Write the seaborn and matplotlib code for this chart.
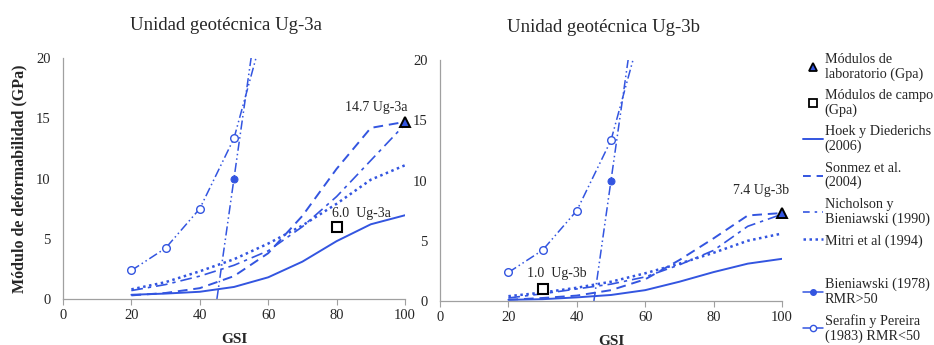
import matplotlib
matplotlib.use("Agg")
import matplotlib.pyplot as plt
import seaborn as sns
import numpy as np
import pandas as pd
from matplotlib.lines import Line2D

sns.set_style("white")
plt.rcParams['font.family'] = ['Liberation Serif', 'DejaVu Serif']

gsi = [20, 30, 40, 50, 60, 70, 80, 90, 100]

# Ug-3a
hoek_a = [0.35, 0.45, 0.6, 1.0, 1.8, 3.1, 4.8, 6.2, 6.95]
sonmez_a = [0.3, 0.5, 0.9, 1.9, 3.8, 6.9, 10.8, 14.2, 14.7]
nich_a = [0.7, 1.2, 1.9, 2.8, 4.0, 6.0, 8.5, 11.5, 14.5]
mitri_a = [0.8, 1.4, 2.3, 3.3, 4.6, 6.1, 7.9, 9.9, 11.1]

# Ug-3b
hoek_b = [0.1, 0.15, 0.3, 0.5, 0.9, 1.6, 2.4, 3.1, 3.5]
sonmez_b = [0.1, 0.25, 0.45, 0.9, 1.8, 3.4, 5.2, 7.1, 7.3]
nich_b = [0.25, 0.6, 1.0, 1.4, 2.0, 3.0, 4.2, 6.2, 7.2]
mitri_b = [0.4, 0.7, 1.1, 1.6, 2.3, 3.1, 4.0, 5.0, 5.6]

# Empirical RMR-based (same in both)
bien_gsi = [45, 50, 55, 60]
bien_e = [0.0, 10.0, 20.0, 30.0]
seraf_gsi = [20, 30, 40, 50, 60]
seraf_e = [2.37, 4.22, 7.50, 13.34, 23.7]

lab = {"a": (100, 14.7), "b": (100, 7.3)}
campo = {"a": (80, 6.0), "b": (30, 1.0)}
lab_txt = {"a": "14.7 Ug-3a", "b": "7.4 Ug-3b"}
campo_txt = {"a": "6.0  Ug-3a", "b": "1.0  Ug-3b"}
lab_pos = {"a": (82.5, 15.9), "b": (85.7, 9.2)}
campo_pos = {"a": (78.6, 7.1), "b": (25.4, 2.3)}
titles = {"a": "Unidad geotécnica Ug-3a", "b": "Unidad geotécnica Ug-3b"}

BLUE = "#3355e0"
FS = 10.5

fig = plt.figure(figsize=(9.34, 3.45), dpi=100)
ax1 = fig.add_axes([63/934, 46/345, 342/934, 241/345])
ax2 = fig.add_axes([440/934, 44/345, 342/934, 241/345])

ls_dashdot = (0, (7, 3, 2, 3))
ls_dd = (0, (6, 2, 1, 2, 1, 2))

def draw(ax, key, hoek, sonmez, nich, mitri):
    sns.lineplot(x=gsi, y=hoek, ax=ax, color=BLUE, lw=1.4, linestyle='-')
    sns.lineplot(x=gsi, y=sonmez, ax=ax, color=BLUE, lw=1.4, linestyle=(0, (5, 3)))
    sns.lineplot(x=gsi, y=nich, ax=ax, color=BLUE, lw=1.2, linestyle=ls_dashdot)
    sns.lineplot(x=gsi, y=mitri, ax=ax, color=BLUE, lw=1.8, linestyle=(0, (1, 1.4)))
    sns.lineplot(x=bien_gsi, y=bien_e, ax=ax, color=BLUE, lw=1.1, linestyle=ls_dd,
                 marker='o', markersize=5, markevery=[1], markerfacecolor=BLUE,
                 markeredgecolor=BLUE)
    sns.lineplot(x=seraf_gsi, y=seraf_e, ax=ax, color=BLUE, lw=1.1, linestyle=ls_dd,
                 marker='o', markersize=5.5, markevery=[0, 1, 2, 3],
                 markerfacecolor='white', markeredgecolor=BLUE, markeredgewidth=1.0)
    ax.plot(*lab[key], marker='^', ms=6.5, mfc=BLUE, mec='black', mew=1.4, ls='none',
            zorder=5, clip_on=False)
    ax.plot(*campo[key], marker='s', ms=7, mfc='white', mec='black', mew=1.5, ls='none',
            zorder=5)
    ax.set_xlim(0, 100)
    ax.set_ylim(0, 20)
    ax.set_xticks([0, 20, 40, 60, 80, 100])
    ax.set_yticks([0, 5, 10, 15, 20])
    for s in ['top', 'right']:
        ax.spines[s].set_visible(False)
    for s in ['left', 'bottom']:
        ax.spines[s].set_color('#a0a0a0')
        ax.spines[s].set_linewidth(0.9)
    ax.tick_params(axis='x', length=4, color='#a0a0a0', labelsize=FS, pad=3, direction='out', bottom=True)
    ax.tick_params(axis='y', length=0, labelsize=FS, pad=9)
    ax.set_xlabel("GSI", fontsize=11, fontweight='bold', labelpad=8)
    ax.set_title(titles[key], fontsize=13.5, pad=20, x=0.477)
    ax.set_facecolor('none')
    ax.text(*lab_pos[key], lab_txt[key], fontsize=10, va='center')
    ax.text(*campo_pos[key], campo_txt[key], fontsize=10, va='center')

draw(ax1, "a", hoek_a, sonmez_a, nich_a, mitri_a)
draw(ax2, "b", hoek_b, sonmez_b, nich_b, mitri_b)
ax1.set_ylabel("Módulo de deformabilidad (GPa)", fontsize=11.5, fontweight='bold', labelpad=6)

handles = [
    Line2D([], [], marker='^', ms=6, mfc=BLUE, mec='black', mew=1.3, ls='none'),
    Line2D([], [], marker='s', ms=6, mfc='white', mec='black', mew=1.3, ls='none'),
    Line2D([], [], color=BLUE, lw=1.4, ls='-'),
    Line2D([], [], color=BLUE, lw=1.4, ls=(0, (4, 3))),
    Line2D([], [], color=BLUE, lw=1.2, ls=(0, (4, 3, 1.5, 3))),
    Line2D([], [], color=BLUE, lw=1.8, ls=(0, (1, 1.4))),
    Line2D([], [], color=BLUE, lw=1.1, ls='-', marker='o', ms=4, mfc=BLUE, mec=BLUE, markevery=[1]),
    Line2D([], [], color=BLUE, lw=1.1, ls='-', marker='o', ms=4.5, mfc='white', mec=BLUE, markevery=[1]),
]
labels = [
    "Módulos de\nlaboratorio (Gpa)",
    "Módulos de campo\n(Gpa)",
    "Hoek y Diederichs\n(2006)",
    "Sonmez et al.\n(2004)",
    "Nicholson y\nBieniawski (1990)",
    "Mitri et al (1994)",
    "Bieniawski (1978)\nRMR>50",
    "Serafin y Pereira\n(1983) RMR<50",
]
LFS = 10.2
leg1 = fig.legend(handles[:6], labels[:6], loc='upper left', bbox_to_anchor=(803/934, 1 - 53/345),
                  frameon=False, fontsize=LFS, handlelength=1.4, handletextpad=0.12,
                  labelspacing=0.6, borderaxespad=0, borderpad=0)
leg2 = fig.legend(handles[6:], labels[6:], loc='upper left', bbox_to_anchor=(803/934, 1 - 278/345),
                  frameon=False, fontsize=LFS, handlelength=1.4, handletextpad=0.12,
                  labelspacing=0.6, borderaxespad=0, borderpad=0)
for lg in (leg1, leg2):
    for t in lg.get_texts():
        t.set_linespacing(1.12)

fig.savefig("out.png", dpi=100)
